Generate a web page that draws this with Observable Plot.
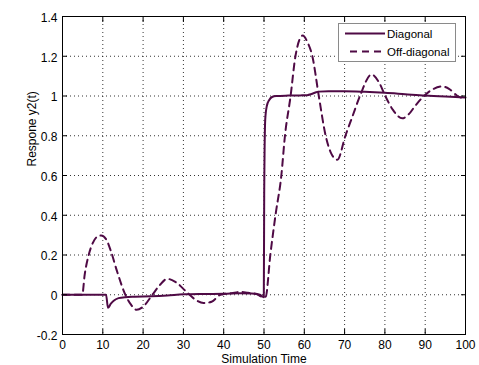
<!DOCTYPE html>
<html>
<head>
<meta charset="utf-8">
<script src="https://cdn.jsdelivr.net/npm/d3@7"></script>
<script src="https://cdn.jsdelivr.net/npm/@observablehq/plot@0.6"></script>
<style>
  body { margin: 0; background: #fff; }
  #wrap { position: relative; width: 479px; height: 365px; font-family: "Liberation Sans", Arial, sans-serif; }
  #legend { position: absolute; left: 338px; top: 23px; width: 116px; height: 37px; background: #fff; border: 1px solid #8a8a8a; }
</style>
</head>
<body>
<div id="wrap"></div>
<script>
// ---- data ----
const seriesNames = ["Diagonal", "Off-diagonal"];
const lineColor = "#4f0a45";

const diagT = [0, 10.8, 11.3, 12.0, 12.7, 13.9, 15.6, 18, 22, 26, 30, 35, 40, 44, 47, 49.0, 49.95, 50.05, 50.3, 50.7, 51.3, 52.0, 53.0, 56, 59, 60.7, 61.8, 62.8, 63.6, 66, 70, 75, 80, 85, 90, 95, 100];
const diagV = [0, 0, -0.066, -0.045, -0.03, -0.017, -0.012, -0.01, -0.008, -0.004, 0.002, 0.004, 0.005, 0.008, 0.006, 0.0, -0.012, 0.5, 0.88, 0.95, 0.98, 0.995, 1.0, 1.002, 1.003, 1.004, 1.01, 1.018, 1.022, 1.024, 1.024, 1.021, 1.016, 1.009, 1.002, 0.997, 0.993];

const offT = [0, 4.9, 5.5, 6.5, 7.5, 8.5, 9.6, 10.8, 12, 13.5, 15.6, 17, 18.4, 20, 22.3, 24, 26, 28, 31, 33, 35, 37, 39.2, 42, 44, 46, 48, 49.8, 50.4, 51.6, 52.9, 54.3, 55.2, 56.6, 57.8, 59.6, 60.8, 62, 63.6, 65.3, 66.7, 68.2, 70.2, 72, 73.8, 76.7, 78.5, 80.1, 82, 84.3, 86, 87.5, 89.7, 92, 94.2, 96, 98, 100];
const offV = [0, 0, 0.1, 0.2, 0.26, 0.29, 0.298, 0.28, 0.22, 0.12, 0.0, -0.05, -0.076, -0.06, 0.0, 0.045, 0.08, 0.065, 0.01, -0.025, -0.042, -0.035, 0.0, 0.008, 0.014, 0.01, 0.005, -0.012, -0.01, 0.206, 0.407, 0.6, 0.8, 1.0, 1.2, 1.304, 1.27, 1.2, 1.0, 0.8, 0.71, 0.679, 0.8, 0.9, 1.0, 1.108, 1.07, 1.0, 0.93, 0.888, 0.91, 0.95, 1.0, 1.035, 1.048, 1.035, 1.0, 0.985];

const xTicks = [0, 10, 20, 30, 40, 50, 60, 70, 80, 90, 100];
const xTickLabels = ["0", "10", "20", "30", "40", "50", "60", "70", "80", "90", "100"];
const yTicks = [-0.2, 0, 0.2, 0.4, 0.6, 0.8, 1, 1.2, 1.4];
const yTickLabels = ["-0.2", "0", "0.2", "0.4", "0.6", "0.8", "1", "1.2", "1.4"];
const xLabel = "Simulation Time";
const yLabel = "Respone y2(t)";

// ---- build ----
const diag = diagT.map((t, i) => ({t, v: diagV[i]}));
const off = offT.map((t, i) => ({t, v: offV[i]}));
const innerX = xTicks.slice(1, -1);
const innerY = yTicks.slice(1, -1);
const font = "Liberation Sans, Arial, sans-serif";

const chart = Plot.plot({
  width: 479,
  height: 365,
  marginLeft: 62,
  marginRight: 14,
  marginTop: 16,
  marginBottom: 31,
  style: {fontFamily: font, fontSize: "12px", color: "#000", background: "#fff"},
  x: {domain: [0, 100]},
  y: {domain: [-0.2, 1.4]},
  marks: [
    Plot.gridX(innerX, {stroke: "#000", strokeOpacity: 0.8, strokeDasharray: "1,3"}),
    Plot.gridY(innerY, {stroke: "#000", strokeOpacity: 0.8, strokeDasharray: "1,3"}),
    Plot.line(diag, {x: "t", y: "v", stroke: lineColor, strokeWidth: 2, curve: "monotone-x"}),
    Plot.line(off, {x: "t", y: "v", stroke: lineColor, strokeWidth: 2, strokeDasharray: "7,5", curve: "monotone-x"}),
    Plot.frame({stroke: "#000"}),
    // inward ticks
    Plot.axisX({anchor: "bottom", ticks: xTicks, tickSize: -5, tickFormat: () => "", label: null}),
    Plot.axisX({anchor: "top", ticks: xTicks, tickSize: -5, tickFormat: () => "", label: null}),
    Plot.axisY({anchor: "left", ticks: yTicks, tickSize: -5, tickFormat: () => "", label: null}),
    Plot.axisY({anchor: "right", ticks: yTicks, tickSize: -5, tickFormat: () => "", label: null}),
    // tick labels
    Plot.axisX({anchor: "bottom", ticks: xTicks, tickSize: 0, tickPadding: 6, label: null,
      tickFormat: d => xTickLabels[xTicks.indexOf(d)], fontSize: 12}),
    Plot.axisY({anchor: "left", ticks: yTicks, tickSize: 0, tickPadding: 5, label: null, dy: 1.5,
      tickFormat: d => yTickLabels[yTicks.indexOf(d)], fontSize: 12}),
    // axis titles
    Plot.text([xLabel], {text: d => d, frameAnchor: "bottom", dy: 25, lineAnchor: "middle", fontSize: 12}),
    Plot.text([yLabel], {text: d => d, frameAnchor: "left", dx: -30, dy: -9, rotate: -90, lineAnchor: "middle", fontSize: 12})
  ]
});

const wrap = document.getElementById("wrap");
wrap.appendChild(chart);

// legend
const leg = document.createElement("div");
leg.id = "legend";
const ns = "http://www.w3.org/2000/svg";
const ls = document.createElementNS(ns, "svg");
ls.setAttribute("width", 116);
ls.setAttribute("height", 37);
const dashes = [null, "7,5"];
const x1s = [6, 11];
seriesNames.forEach((name, i) => {
  const y = 9.5 + i * 18;
  const ln = document.createElementNS(ns, "line");
  ln.setAttribute("x1", x1s[i]); ln.setAttribute("x2", 46);
  ln.setAttribute("y1", y); ln.setAttribute("y2", y);
  ln.setAttribute("stroke", lineColor); ln.setAttribute("stroke-width", 2);
  if (dashes[i]) ln.setAttribute("stroke-dasharray", dashes[i]);
  ls.appendChild(ln);
  const tx = document.createElementNS(ns, "text");
  tx.setAttribute("x", 48); tx.setAttribute("y", y + 4);
  tx.setAttribute("font-size", "11.5px");
  tx.setAttribute("font-family", font);
  tx.setAttribute("fill", "#000");
  tx.textContent = name;
  ls.appendChild(tx);
});
leg.appendChild(ls);
wrap.appendChild(leg);
</script>
</body>
</html>
